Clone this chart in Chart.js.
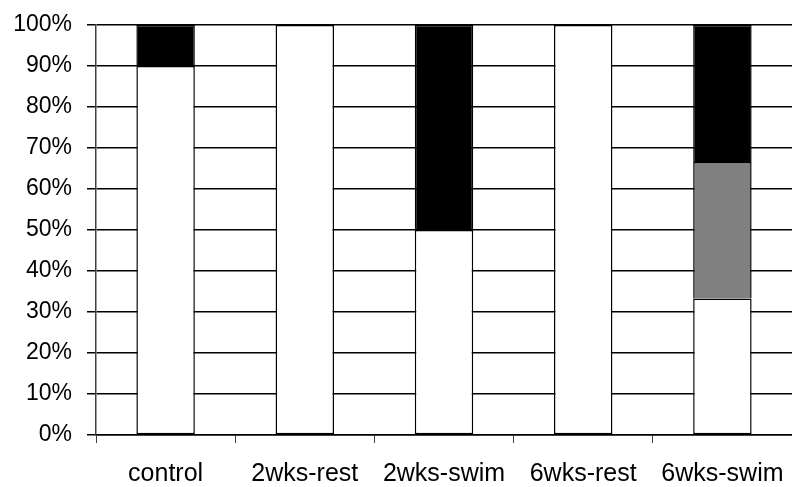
<!DOCTYPE html>
<html>
<head>
<meta charset="utf-8">
<script src="https://cdn.jsdelivr.net/npm/chart.js@4"></script>
<style>
  html, body { margin: 0; padding: 0; background: #ffffff; }
  #wrap { width: 792px; height: 487px; }
</style>
</head>
<body>
<div id="wrap"><canvas id="chart" width="792" height="487"></canvas></div>
<script>
const categories = ["control", "2wks-rest", "2wks-swim", "6wks-rest", "6wks-swim"];
const whitePart = [90, 100, 50, 100, 33.3];
const grayPart = [0, 0, 0, 0, 33.3];
const blackPart = [10, 0, 50, 0, 33.4];

const ctx = document.getElementById("chart");

// segments stacked on top skip their bottom edge so joins stay a single line
const makeSet = (values, color, skip) => ({
  data: values,
  backgroundColor: color,
  borderColor: "#000000",
  borderWidth: (c) => (c.raw === 0 ? 0 : 1.5),
  borderSkipped: skip,
  categoryPercentage: 1,
  barPercentage: 0.42,
});

new Chart(ctx, {
  type: "bar",
  data: {
    labels: categories,
    datasets: [
      makeSet(whitePart, "#ffffff", false),
      makeSet(grayPart, "#808080", "start"),
      makeSet(blackPart, "#000000", "start"),
    ],
  },
  options: {
    responsive: false,
    animation: false,
    layout: { padding: { top: 25, right: 0, left: 0, bottom: 0 } },
    plugins: { legend: { display: false }, tooltip: { enabled: false } },
    scales: {
      x: {
        stacked: true,
        offset: true,
        grid: {
          offset: true,
          drawOnChartArea: false,
          color: "#404040",
          tickLength: 8,
        },
        border: { display: true, color: "#000000", width: 1.5 },
        ticks: {
          color: "#000000",
          font: { family: "Liberation Sans, Arial", size: 25 },
          padding: 16,
          maxRotation: 0,
          autoSkip: false,
        },
        afterFit: (s) => {
          s.height = 52;
          s.paddingLeft = 0;
          s.paddingRight = 0;
        },
      },
      y: {
        stacked: true,
        min: 0,
        max: 100,
        grid: {
          color: "#000000",
          lineWidth: 1.5,
          tickLength: 9,
        },
        border: { display: true, color: "#404040", width: 1.5 },
        ticks: {
          stepSize: 10,
          color: "#000000",
          padding: 15,
          font: { family: "Liberation Sans, Arial", size: 23 },
          callback: (v) => v + "%",
        },
        afterFit: (s) => {
          s.width = 96;
          s.paddingTop = 0;
          s.paddingBottom = 0;
        },
      },
    },
  },
});
</script>
</body>
</html>
